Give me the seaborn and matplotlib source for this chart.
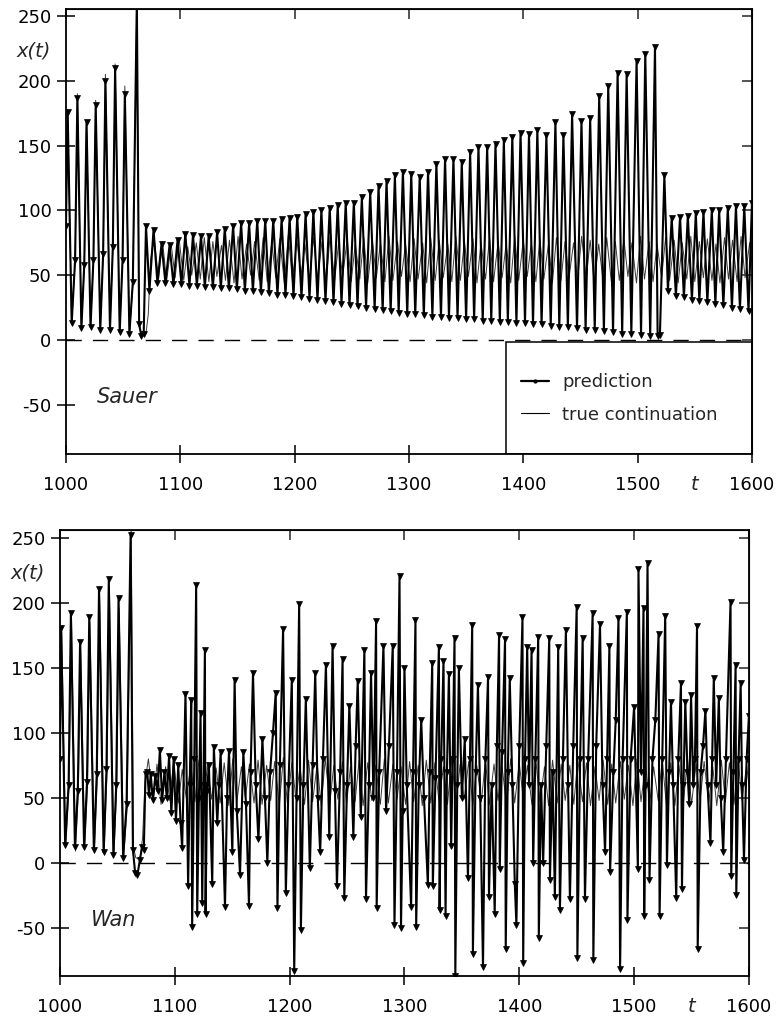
import matplotlib
matplotlib.use("Agg")
import matplotlib.pyplot as plt
import matplotlib.transforms as mtransforms
from matplotlib.lines import Line2D
from matplotlib.patches import Rectangle
import numpy as np
import seaborn as sns

# ---------------- data ----------------
x_ticks = [1000, 1100, 1200, 1300, 1400, 1500, 1600]
x_labels_full = ["1000", "1100", "1200", "1300", "1400", "1500", "1600"]
y_ticks = [-50, 0, 50, 100, 150, 200, 250]
y_labels = ["-50", "0", "50", "100", "150", "200", "250"]
legend_labels = ["prediction", "true continuation"]
panel_names = ["Sauer", "Wan"]

# true continuation (same in both panels)
true_t = [1000, 1001.5, 1005, 1008, 1010, 1013.5, 1016, 1018, 1021.5, 1024,
          1026, 1030, 1032.5, 1034.5, 1038.5, 1041, 1043, 1047, 1049.5, 1051.5,
          1055.5, 1058.5, 1062, 1064, 1066, 1068, 1070, 1072, 1074,
          1077, 1081, 1084.5, 1088, 1092, 1095.5, 1099, 1103, 1106.5, 1110,
          1114, 1117.5, 1121, 1125, 1128.5, 1132, 1136, 1139.5, 1143, 1147,
          1150.5, 1154, 1158, 1161.5, 1165, 1169, 1172.5, 1176, 1180, 1183.5,
          1187, 1191, 1194.5, 1198, 1202, 1205.5, 1209, 1213, 1216.5, 1220,
          1224, 1227.5, 1231, 1235, 1238.5, 1242, 1246, 1249.5, 1253, 1257,
          1260.5, 1264, 1268, 1271.5, 1275, 1279, 1282.5, 1286, 1290, 1293.5,
          1297, 1301, 1304.5, 1308, 1312, 1315.5, 1319, 1323, 1326.5, 1330,
          1334, 1337.5, 1341, 1345, 1348.5, 1352, 1356, 1359.5, 1363, 1367,
          1370.5, 1374, 1378, 1381.5, 1385, 1389, 1392.5, 1396, 1400, 1403.5,
          1407, 1411, 1414.5, 1418, 1422, 1425.5, 1429, 1433, 1436.5, 1440,
          1444, 1447.5, 1451, 1455, 1458.5, 1462, 1466, 1469.5, 1473, 1477,
          1480.5, 1484, 1488, 1491.5, 1495, 1499, 1502.5, 1506, 1510, 1513.5,
          1517, 1521, 1524.5, 1528, 1532, 1535.5, 1539, 1543, 1546.5, 1550,
          1554, 1557.5, 1561, 1565, 1568.5, 1572, 1576, 1579.5, 1583, 1587,
          1590.5, 1594, 1598, 1600]
true_x = [88, 178, 12, 60, 190, 9, 55, 169, 10, 60,
          185, 8, 65, 205, 8, 70, 213, 6, 60, 196,
          5, 42, 262, 12, 4, 3, 5, 20, 62,
          80, 47, 76, 45, 74, 48, 78, 46, 72, 50,
          75, 47, 79, 45, 76, 49, 73, 46, 77, 44,
          80, 47, 74, 50, 76, 46, 79, 45, 75, 48,
          78, 44, 81, 46, 77, 49, 74, 45, 79, 47,
          76, 44, 80, 46, 75, 49, 78, 45, 74, 47,
          79, 44, 77, 48, 75, 45, 80, 46, 76, 49,
          74, 45, 78, 47, 75, 44, 79, 46, 77, 48,
          74, 45, 80, 46, 76, 49, 78, 44, 75, 47,
          79, 45, 76, 48, 74, 44, 80, 46, 77, 49,
          75, 45, 78, 47, 74, 44, 79, 46, 76, 48,
          75, 45, 80, 47, 77, 44, 74, 48, 79, 45,
          76, 46, 78, 49, 75, 44, 80, 47, 76, 45,
          74, 48, 79, 46, 77, 44, 75, 47, 80, 45,
          76, 48, 78, 46, 74, 44, 79, 47, 77, 45,
          80, 48, 75, 60]

# Sauer prediction
sauer_t = [1000, 1001.5, 1005, 1008, 1010, 1013.5, 1016, 1018, 1021.5, 1024,
           1026, 1030, 1032.5, 1034.5, 1038.5, 1041, 1043, 1047, 1049.5, 1051.5,
           1055.5, 1058.5, 1062, 1064, 1066, 1068, 1070, 1073,
           1076.6, 1080, 1083.6, 1087, 1090.6, 1094, 1097.6, 1101, 1104.4, 1108,
           1111.1, 1114.5, 1118.1, 1121.5, 1124.8, 1128.5, 1132.2, 1135.5, 1138.9, 1142.5,
           1146.2, 1149.5, 1153.2, 1156.5, 1160.2, 1163.5, 1167.3, 1170.5, 1174.3, 1177.5,
           1181.3, 1185, 1188.6, 1192, 1195.6, 1199, 1202.3, 1206, 1209.6, 1213,
           1216.4, 1220, 1223.4, 1227, 1230.7, 1234, 1237.7, 1241, 1244.7, 1248,
           1251.8, 1255, 1258.8, 1262.5, 1266.1, 1270, 1273.4, 1277, 1280.4, 1284,
           1287.7, 1291, 1294.7, 1298.5, 1302, 1305.5, 1309.4, 1313, 1316.7, 1320.5,
           1324, 1328, 1331.6, 1335, 1338.9, 1342.5, 1346.2, 1350, 1353.5, 1357,
           1360.8, 1364.5, 1368.4, 1372, 1375.7, 1379.5, 1383, 1386.5, 1390.4, 1394,
           1397.6, 1401.5, 1405, 1408.5, 1412.3, 1416, 1420.2, 1424, 1428.1, 1431.5,
           1435.1, 1439, 1442.7, 1447, 1450.9, 1454.5, 1458.5, 1462.5, 1466.4, 1470.5,
           1474.3, 1478.5, 1482.5, 1486.5, 1490.4, 1494.5, 1499.1, 1503, 1506.7, 1511,
           1515.2, 1517.5, 1519.5, 1523.4, 1526.5, 1529.8, 1533.5, 1537.1, 1540.5, 1543.9,
           1547.5, 1550.9, 1554, 1557.6, 1561, 1564.9, 1568, 1571.3, 1575, 1578.9,
           1582.5, 1586, 1589.5, 1593.3, 1597, 1600]
sauer_x = [88, 176, 13, 62, 187, 9, 58, 168, 10, 62,
           181, 8, 66, 200, 8, 72, 210, 6, 62, 190,
           5, 45, 262, 12, 3, 5, 88, 38,
           85, 44, 74, 44, 73, 43, 77, 43, 82, 42,
           81, 42, 80, 41, 80, 41, 83, 40, 86, 40,
           88, 39, 90, 38, 90, 38, 92, 37, 92, 36,
           92, 35, 93, 35, 94, 34, 95, 33, 97, 32,
           99, 31, 100, 30, 102, 29, 104, 28, 106, 27,
           106, 26, 110, 25, 114, 24, 119, 23, 123, 22,
           127, 21, 130, 20, 128, 20, 126, 19, 130, 18,
           136, 18, 140, 17, 140, 17, 137, 16, 145, 16,
           149, 15, 149, 15, 151, 14, 154, 14, 157, 13,
           160, 13, 159, 12, 162, 12, 158, 11, 168, 10,
           158, 10, 174, 9, 169, 8, 171, 8, 188, 7,
           196, 6, 206, 5, 205, 5, 215, 4, 221, 3,
           226, 3, 4, 127, 38, 94, 34, 95, 33, 96,
           31, 98, 30, 99, 29, 100, 28, 100, 27, 102,
           25, 103, 24, 103, 22, 106]

# Wan prediction
wan_t = [1000, 1001, 1004.5, 1007.5, 1009.5, 1013, 1015.5, 1017.5, 1021, 1023.5,
         1025.5, 1029.5, 1032, 1034, 1038, 1040.5, 1042.5, 1046.5, 1049, 1051,
         1055, 1058, 1061.5, 1063.5, 1065.5, 1067.5, 1069.5, 1071.5, 1073, 1074.5,
         1076, 1077.5, 1079, 1081, 1083, 1085, 1087, 1089, 1091, 1093,
         1095, 1097, 1099, 1101, 1103, 1105,
         1106.4, 1109.3, 1111.6, 1113, 1114.3, 1115.1, 1117, 1118.6, 1119.5, 1121,
         1122.4, 1123.9, 1125, 1126.2, 1126.8, 1128, 1129.7, 1132.6, 1134, 1137,
         1138.5, 1139.9, 1143.7, 1145.5, 1147.2, 1150.1, 1152.1, 1154, 1156.8, 1159.7,
         1162, 1164.6, 1166, 1168.1, 1170.5, 1172.8, 1176.3, 1178.5, 1180.6, 1183,
         1185.5, 1187.9, 1189.4, 1191.5, 1194.3, 1196.7, 1199, 1201.9, 1204, 1206,
         1208.3, 1209.8, 1212, 1214.1, 1217.6, 1220, 1222.3, 1224.5, 1226.6, 1229,
         1231.6, 1234.5, 1237.4, 1239.5, 1241.2, 1244, 1246.1, 1247.6, 1250, 1252,
         1255.5, 1257.5, 1259.3, 1262, 1265.1, 1266.5, 1269, 1270.9, 1273, 1275.3,
         1275.8, 1278, 1281.7, 1284, 1286.5, 1289.8, 1291.3, 1293.5, 1295.7, 1297,
         1298.5, 1300, 1302, 1305.8, 1307.5, 1309.6, 1310.2, 1312.5, 1314.6, 1317,
         1320.4, 1322, 1324.2, 1324.7, 1327, 1330, 1330.6, 1332, 1334, 1335.8,
         1337, 1338.7, 1340.7, 1342, 1343.6, 1344.3, 1346, 1347.4, 1350, 1352.5,
         1355.3, 1357, 1359, 1359.6, 1362, 1364, 1366, 1368.4, 1370.5, 1372.8,
         1373.6, 1376, 1378.6, 1380.5, 1382.4, 1383, 1385, 1387.6, 1388.2, 1390,
         1391.7, 1394, 1396.1, 1397.5, 1400, 1402.8, 1403.4, 1405, 1406.9, 1408.5,
         1410.7, 1412.1, 1414, 1416.5, 1417, 1419, 1420.8, 1423.5, 1426.1, 1426.7,
         1429, 1431, 1433.9, 1435.4, 1438, 1440.6, 1442.5, 1444.1, 1447, 1450,
         1450.6, 1453, 1455.2, 1457.2, 1460, 1463.9, 1464.5, 1467, 1470.3, 1472.5,
         1474.7, 1476.5, 1478.5, 1479.1, 1482, 1484, 1486.4, 1487.8, 1490, 1493.7,
         1494.2, 1497, 1500, 1503.3, 1503.8, 1506, 1508.2, 1508.8, 1510, 1511.7,
         1513.4, 1516, 1518.5, 1521.3, 1522.2, 1524.5, 1527.1, 1528.6, 1530.5, 1532.1,
         1534, 1536.7, 1538.5, 1540.8, 1541.7, 1543, 1544.6, 1546.5, 1548, 1549.6,
         1551.5, 1553, 1554.8, 1555.4, 1558, 1560, 1562.1, 1564, 1566.5, 1568,
         1569.4, 1571.5, 1573.8, 1575.5, 1577.6, 1580, 1584, 1584.6, 1586.5, 1588.4,
         1589, 1591, 1592.8, 1594, 1595.7, 1598, 1600]
wan_x = [80, 181, 14, 60, 192, 12, 55, 170, 12, 62,
         189, 10, 68, 211, 8, 72, 218, 6, 60, 204,
         4, 45, 252, 10, -8, -9, 2, 12, 10, 68,
         70, 52, 68, 48, 67, 55, 87, 48, 70, 50,
         82, 38, 80, 32, 75, 31,
         11.5, 130, -18, 60, 125, -49, 80, 214, -39, 50,
         115, -31, 60, 164, -39, 55, 75, -16, 89, 31,
         60, 85, -34, 50, 86, 8, 141, 40, -9, 85,
         45, -33, 70, 146, 60, 18, 95, 50, 0, 70,
         100, 131, -35, 75, 180, -23, 60, 141, -83, 50,
         199, -52, 60, 126, -4, 75, 146, 50, 8, 80,
         152, 20, 167, 55, -18, 70, 157, -27, 60, 121,
         20, 90, 140, 35, 164, -28, 60, 146, 50, 186,
         -35, 70, 167, 40, 90, 167, -48, 70, 221, -50,
         40, 150, 60, -34, 70, 187, -49, 60, 110, 50,
         -17, 70, 154, -18, 65, 166, -36, 80, 155, -41,
         70, 145, 13, 80, 173, -87, 60, 150, 50, 95,
         -12, 80, 183, -70, 70, 137, 50, -80, 80, 143,
         -26, 60, -39, 90, 175, -5, 85, 172, -66, 70,
         142, 60, -16, -48, 90, 189, -77, 80, 166, 60,
         164, 0, 80, 174, -58, 60, 0, 90, 173, -13,
         70, -26, 166, -36, 80, 179, 60, -28, 90, 197,
         -73, 80, 173, -28, 80, 192, -75, 90, 184, 60,
         8, 80, 167, -7, 70, 110, 188, -82, 80, 193,
         -44, 80, 120, -5, 226, 70, 196, -41, 60, 231,
         -13, 80, 110, 176, -41, 80, 190, -2, 70, 124,
         60, -27, 80, 138, -20, 60, 124, 70, 45, 129,
         60, 80, 182, -66, 70, 90, 117, 60, 15, 80,
         142, 60, 127, 50, 8, 80, 201, -10, 70, 152,
         -25, 80, 138, 60, 2, 80, 113]

assert len(true_t) == len(true_x), (len(true_t), len(true_x))
assert len(sauer_t) == len(sauer_x), (len(sauer_t), len(sauer_x))
assert len(wan_t) == len(wan_x), (len(wan_t), len(wan_x))

# ---------------- style ----------------
sns.set_style("ticks")
plt.rcParams["font.family"] = ["DejaVu Sans"]
plt.rcParams["axes.unicode_minus"] = False

fig = plt.figure(figsize=(7.76, 10.21), dpi=100)
ax_top = fig.add_axes([0.085, 0.5553, 0.884, 0.4354])
ax_bot = fig.add_axes([0.0773, 0.0441, 0.8878, 0.4368])

PRED_KW = dict(color="black", linewidth=1.5, marker="v", markersize=3.8,
               markeredgewidth=0.5, markeredgecolor="black",
               markerfacecolor="black", estimator=None, sort=False, legend=False)
TRUE_KW = dict(color="#3a3a3a", linewidth=0.7, estimator=None, sort=False, legend=False)


def style_axes(ax, ylim):
    ax.set_xlim(1000, 1600)
    ax.set_ylim(*ylim)
    ax.set_xticks(x_ticks)
    ax.set_xticklabels(x_labels_full)
    ax.set_yticks(y_ticks)
    ax.set_yticklabels(y_labels)
    ax.tick_params(axis="both", direction="inout", length=13, width=1.1,
                   labelsize=13, color="black", labelcolor="black")
    ax.tick_params(axis="x", pad=9)
    ax.tick_params(axis="y", pad=4)
    for s in ax.spines.values():
        s.set_visible(True)
        s.set_linewidth(1.3)
        s.set_color("black")
    top = ax.secondary_xaxis("top")
    top.set_xticks(x_ticks)
    top.tick_params(direction="in", length=7, width=1.1, labeltop=False)
    right = ax.secondary_yaxis("right")
    right.set_yticks(y_ticks)
    right.tick_params(direction="in", length=7, width=1.1, labelright=False)
    ax.set_xlabel("")
    ax.set_ylabel("")
    ax.axhline(0, color="black", linewidth=1.0, dashes=(11, 8), zorder=1)


for ax, pred_t, pred_x, ylim, name in [
        (ax_top, sauer_t, sauer_x, (-88, 255), panel_names[0]),
        (ax_bot, wan_t, wan_x, (-87, 256), panel_names[1])]:
    style_axes(ax, ylim)
    sns.lineplot(x=np.array(true_t), y=np.array(true_x), ax=ax, zorder=2, **TRUE_KW)
    sns.lineplot(x=np.array(pred_t), y=np.array(pred_x), ax=ax, zorder=3, **PRED_KW)
    ax.set_xlabel("")
    ax.set_ylabel("")
    ax.text(1027, -44, name, fontsize=15, style="italic", ha="left", va="center")
    ax.text(-0.047, 223, "x(t)", fontsize=14, style="italic", ha="center", va="center",
            transform=mtransforms.blended_transform_factory(ax.transAxes, ax.transData))
    ax.text(1550, -0.069, "t", fontsize=14, style="italic", ha="center", va="center",
            transform=mtransforms.blended_transform_factory(ax.transData, ax.transAxes))

# legend box in top panel (flush with lower-right corner)
ax_top.add_patch(Rectangle((0.641, 0.0), 0.359, 0.252, transform=ax_top.transAxes,
                           facecolor="white", edgecolor="black", linewidth=1.1, zorder=1.5))
handles = [Line2D([], [], color="black", linewidth=1.6, marker=".", markersize=4),
           Line2D([], [], color="black", linewidth=0.8)]
leg = ax_top.legend(handles, legend_labels, loc="center left",
                    bbox_to_anchor=(0.664, 0.125), frameon=False, fontsize=13,
                    handlelength=1.5, handletextpad=0.75, labelspacing=0.8,
                    borderpad=0, borderaxespad=0)
leg.set_zorder(6)

fig.savefig("out.png", dpi=100)
